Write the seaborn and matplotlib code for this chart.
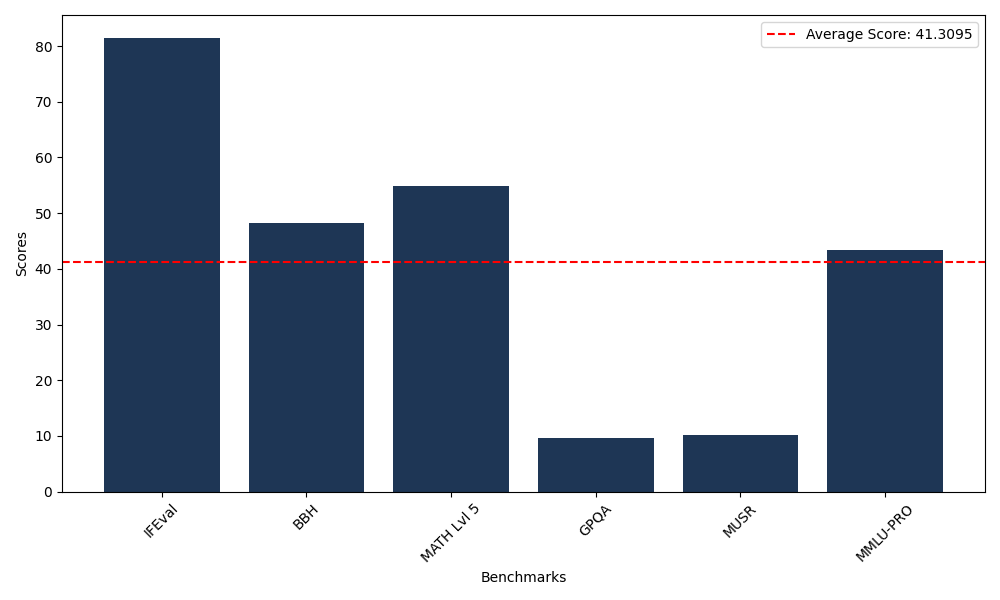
import matplotlib
matplotlib.use("Agg")
import matplotlib.pyplot as plt
import seaborn as sns
import pandas as pd

benchmarks = ["IFEval", "BBH", "MATH Lvl 5", "GPQA", "MUSR", "MMLU-PRO"]
scores = [81.5, 48.3, 54.8, 9.65, 10.2, 43.407]

df = pd.DataFrame({"Benchmarks": benchmarks, "Scores": scores})
avg = sum(scores) / len(scores)

fig, ax = plt.subplots(figsize=(10, 6), dpi=100)
sns.barplot(data=df, x="Benchmarks", y="Scores", color="#1e3655",
            saturation=1, width=0.8, ax=ax)
# restore matplotlib's default x padding around the bars
ax.margins(x=0.05)
ax.autoscale(axis="x")
ax.axhline(avg, color="red", linestyle="--", label=f"Average Score: {avg:.4f}")
ax.set_xlabel("Benchmarks")
ax.set_ylabel("Scores")
plt.xticks(rotation=45)
ax.legend(loc="upper right")
plt.tight_layout()
plt.savefig("out.png")
